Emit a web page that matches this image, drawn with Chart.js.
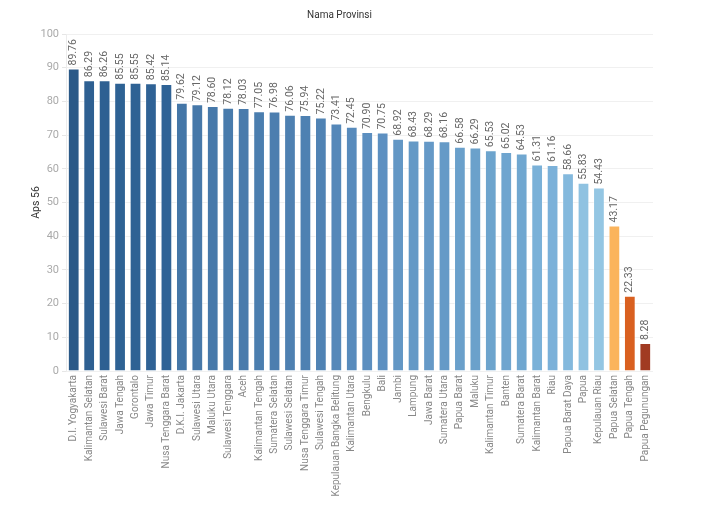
<!DOCTYPE html>
<html>
<head>
<meta charset="utf-8">
<script src="https://cdn.jsdelivr.net/npm/chart.js@4"></script>
<style>
  html, body { margin: 0; padding: 0; background: #fff; }
  #wrap { width: 717px; height: 505px; }
</style>
</head>
<body>
<div id="wrap"><canvas id="apsChart"></canvas></div>
<script>
// Provinces, sorted by value
const provinsi = [
    'D.I. Yogyakarta', 'Kalimantan Selatan', 'Sulawesi Barat', 'Jawa Tengah', 'Gorontalo',
    'Jawa Timur', 'Nusa Tenggara Barat', 'D.K.I. Jakarta', 'Sulawesi Utara', 'Maluku Utara',
    'Sulawesi Tenggara', 'Aceh', 'Kalimantan Tengah', 'Sumatera Selatan', 'Sulawesi Selatan',
    'Nusa Tenggara Timur', 'Sulawesi Tengah', 'Kepulauan Bangka Belitung', 'Kalimantan Utara', 'Bengkulu',
    'Bali', 'Jambi', 'Lampung', 'Jawa Barat', 'Sumatera Utara',
    'Papua Barat', 'Maluku', 'Kalimantan Timur', 'Banten', 'Sumatera Barat',
    'Kalimantan Barat', 'Riau', 'Papua Barat Daya', 'Papua', 'Kepulauan Riau',
    'Papua Selatan', 'Papua Tengah', 'Papua Pegunungan'
];

const aps56 = [
    89.76, 86.29, 86.26, 85.55, 85.55,
    85.42, 85.14, 79.62, 79.12, 78.60,
    78.12, 78.03, 77.05, 76.98, 76.06,
    75.94, 75.22, 73.41, 72.45, 70.90,
    70.75, 68.92, 68.43, 68.29, 68.16,
    66.58, 66.29, 65.53, 65.02, 64.53,
    61.31, 61.16, 58.66, 55.83, 54.43,
    43.17, 22.33, 8.28
];

const yTicks = [0, 10, 20, 30, 40, 50, 60, 70, 80, 90, 100];

// Orange-blue diverging colour ramp (value -> colour)
const colorStops = [
    [8, [160, 58, 34]], [22, [216, 95, 31]], [43, [253, 180, 90]],
    [54, [150, 199, 228]], [61, [123, 178, 217]], [66, [108, 162, 204]],
    [71, [92, 143, 192]], [79, [70, 120, 169]], [85, [47, 99, 150]], [90, [42, 88, 134]]
];

function colorFor(v) {
    if (v <= colorStops[0][0]) return 'rgb(' + colorStops[0][1].join(',') + ')';
    for (let i = 1; i < colorStops.length; i++) {
        const [v1, c1] = colorStops[i];
        const [v0, c0] = colorStops[i - 1];
        if (v <= v1) {
            const t = (v - v0) / (v1 - v0);
            const c = c0.map((x, k) => Math.round(x + (c1[k] - x) * t));
            return 'rgb(' + c.join(',') + ')';
        }
    }
    return 'rgb(' + colorStops[colorStops.length - 1][1].join(',') + ')';
}

// Value labels drawn vertically above each bar
const valueLabels = {
    id: 'valueLabels',
    afterDatasetsDraw(chart) {
        const ctx = chart.ctx;
        const meta = chart.getDatasetMeta(0);
        ctx.save();
        ctx.font = '10.5px Roboto, "DejaVu Sans", sans-serif';
        ctx.fillStyle = '#666';
        ctx.textAlign = 'left';
        ctx.textBaseline = 'middle';
        meta.data.forEach((bar, i) => {
            ctx.save();
            ctx.translate(bar.x, bar.y - 3);
            ctx.rotate(-Math.PI / 2);
            ctx.fillText(aps56[i].toFixed(2), 0, 0);
            ctx.restore();
        });
        ctx.restore();
    }
};

const ctx = document.getElementById('apsChart').getContext('2d');
new Chart(ctx, {
    type: 'bar',
    data: {
        labels: provinsi,
        datasets: [{
            label: 'Aps 56',
            data: aps56,
            backgroundColor: aps56.map(colorFor),
            borderColor: 'rgba(255,255,255,0.45)',
            borderWidth: 1,
            categoryPercentage: 1.0,
            barPercentage: 0.76
        }]
    },
    options: {
        responsive: true,
        maintainAspectRatio: false,
        animation: false,
        layout: { padding: { left: 26, right: 64, top: 0, bottom: 0 } },
        plugins: {
            legend: { display: false },
            tooltip: { enabled: false },
            title: {
                display: true,
                text: 'Nama Provinsi',
                color: '#333',
                font: { family: 'Roboto, sans-serif', size: 10, weight: 'normal' },
                padding: { top: 9, bottom: 13 }
            }
        },
        scales: {
            x: {
                grid: { display: false, drawTicks: false },
                border: { display: false },
                ticks: {
                    color: '#888',
                    font: { family: 'Roboto, sans-serif', size: 10 },
                    minRotation: 90,
                    maxRotation: 90,
                    autoSkip: false,
                    padding: 4
                },
                afterFit(scale) { scale.height = 134; }
            },
            y: {
                min: 0,
                max: 100,
                afterBuildTicks(scale) { scale.ticks = yTicks.map(v => ({ value: v })); },
                grid: { color: '#f0f0f0', tickLength: 4, tickColor: '#e6e6e6' },
                border: { display: true, color: '#ececec' },
                ticks: {
                    color: '#aaa',
                    font: { family: 'Roboto, sans-serif', size: 11 },
                    padding: 3
                },
                title: {
                    display: true,
                    text: 'Aps 56',
                    color: '#333',
                    font: { family: 'Roboto, sans-serif', size: 10.5 },
                    padding: { top: 4, bottom: 4 }
                },
                afterFit(scale) { scale.width = 40; }
            }
        }
    },
    plugins: [valueLabels]
});
</script>
</body>
</html>
